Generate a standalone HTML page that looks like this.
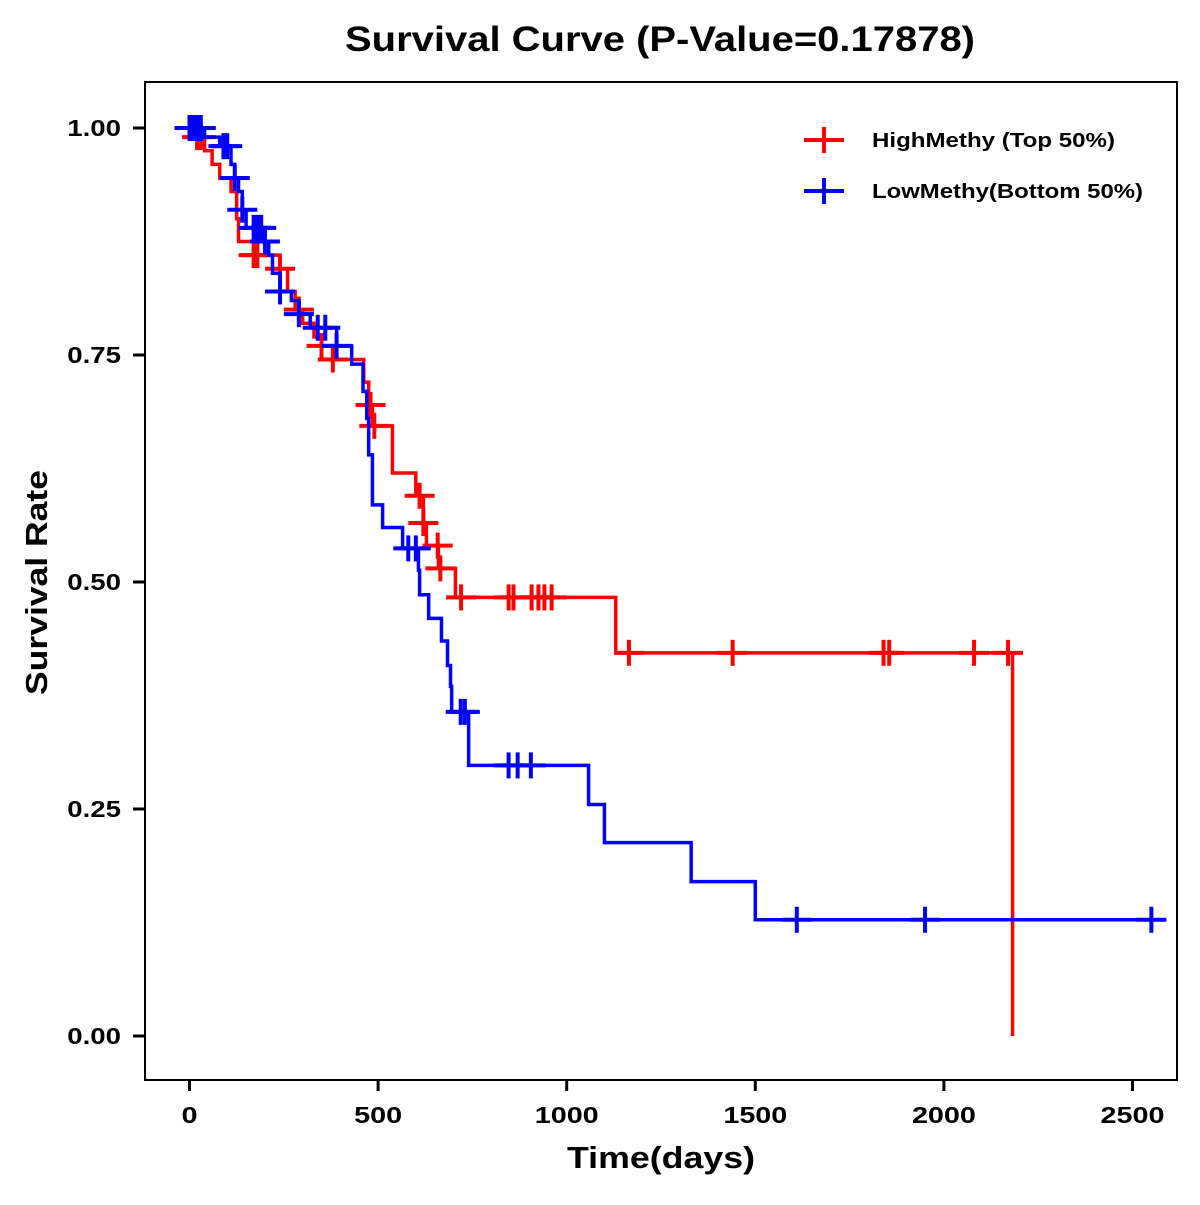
<!DOCTYPE html>
<html><head><meta charset="utf-8"><style>
body{margin:0;background:#fff}
svg text{font-family:"Liberation Sans",Arial,sans-serif;font-weight:bold;fill:#000}
</style></head><body>
<svg id="chart" width="1200" height="1200" viewBox="0 0 1200 1200" xmlns="http://www.w3.org/2000/svg">
<rect width="1200" height="1200" fill="#fff"/>
<text x="345" y="51" font-size="35" textLength="630" lengthAdjust="spacingAndGlyphs">Survival Curve (P-Value=0.17878)</text>
<rect x="145" y="82" width="1032" height="998" fill="none" stroke="#000" stroke-width="2"/>
<g id="axes"></g>
<g id="series"></g>
<text x="567" y="1168" font-size="31" textLength="188" lengthAdjust="spacingAndGlyphs">Time(days)</text>
<text transform="translate(47,695) rotate(-90)" font-size="31" textLength="225" lengthAdjust="spacingAndGlyphs">Survival Rate</text>
<g>
<g>
<line x1="804" y1="140" x2="844" y2="140" stroke="#f00" stroke-width="4"/><line x1="824" y1="127" x2="824" y2="153" stroke="#f00" stroke-width="4"/>
<text x="872" y="147" font-size="20" textLength="243" lengthAdjust="spacingAndGlyphs">HighMethy (Top 50%)</text></g>
<g>
<line x1="804" y1="191" x2="844" y2="191" stroke="#00f" stroke-width="4"/><line x1="824" y1="178" x2="824" y2="204" stroke="#00f" stroke-width="4"/>
<text x="872" y="198" font-size="20" textLength="271" lengthAdjust="spacingAndGlyphs">LowMethy(Bottom 50%)</text></g>
</g>
</svg>
<script>
const xTicks=[0,500,1000,1500,2000,2500];
const yTicks=[0,0.25,0.5,0.75,1.0];
const yTickLabels=["0.00","0.25","0.50","0.75","1.00"];
const highTimes=[20,40,60,80,110,125,130,170,240,260,280,300,330,350,380,462,475,485,538,600,620,628,660,705,1130,2182];
const highSurv=[0.99,0.975,0.96,0.945,0.93,0.9,0.875,0.86,0.845,0.82,0.80,0.785,0.77,0.76,0.745,0.72,0.695,0.672,0.62,0.595,0.565,0.54,0.515,0.483,0.422,0.0];
const highCensor=[20,30,170,180,240,290,350,380,480,490,610,620,658,665,720,846,859,907,925,941,960,1165,1440,1840,1855,2080,2170];
const lowTimes=[40,80,110,120,130,140,150,200,210,220,240,270,290,320,390,430,460,470,475,485,512,565,607,610,634,668,684,692,695,740,1058,1100,1330,1500];
const lowSurv=[0.99,0.98,0.96,0.945,0.93,0.91,0.89,0.875,0.86,0.84,0.82,0.81,0.795,0.78,0.76,0.74,0.71,0.68,0.64,0.585,0.56,0.537,0.513,0.486,0.46,0.435,0.408,0.385,0.357,0.298,0.255,0.213,0.17,0.128];
const lowCensor=[0,10,20,30,90,100,120,140,170,180,190,200,240,290,340,360,390,580,600,719,730,846,870,905,1610,1950,2550];
const lowEnd=2560;

const X=t=>189.5+t*0.3772;
const Y=s=>1036-s*908;
const NS="http://www.w3.org/2000/svg";
function mk(tag,attrs,parent){const e=document.createElementNS(NS,tag);for(const k in attrs)e.setAttribute(k,attrs[k]);parent.appendChild(e);return e;}
const axes=document.getElementById('axes'), series=document.getElementById('series');
xTicks.forEach(t=>{
 const l=mk('line',{x1:X(t),x2:X(t),y1:1081,y2:1091,stroke:'#000','stroke-width':3},axes);
 
 
 const tx=mk('text',{x:0,y:0,'font-size':23,'text-anchor':'middle',transform:`translate(${X(t)},1123) scale(1.25,1)`},axes);tx.textContent=t;
 
 
});
yTicks.forEach((s,i)=>{
 const l=mk('line',{x1:133,x2:144,y1:Y(s),y2:Y(s),stroke:'#000','stroke-width':3},axes);
 
 
 const tx=mk('text',{x:0,y:0,'font-size':23,'text-anchor':'end',transform:`translate(121,${Y(s)+8}) scale(1.2,1)`},axes);tx.textContent=yTickLabels[i];
 
 
});
function survAt(times,surv,t){let s=1;for(let i=0;i<times.length;i++){if(times[i]<=t)s=surv[i];}return s;}
function draw(times,surv,cens,end,color,name){
 let d=`M${X(0)},${Y(1)}`;
 for(let i=0;i<times.length;i++){d+=` H${X(times[i])} V${Y(surv[i])}`;}
 if(end>times[times.length-1])d+=` H${X(end)}`;
 const p=mk('path',{d:d,fill:'none',stroke:color,'stroke-width':3.5},series);
 
 
 cens.forEach(t=>{
  const y=Y(survAt(times,surv,t)),x=X(t);
  const g=mk('g',{},series);
  
  
  mk('line',{x1:x-15,x2:x+15,y1:y,y2:y,stroke:color,'stroke-width':4},g);
  mk('line',{x1:x,x2:x,y1:y-13,y2:y+13,stroke:color,'stroke-width':4},g);
 });
}
draw(highTimes,highSurv,highCensor,0,'#f00','high-methy');
draw(lowTimes,lowSurv,lowCensor,lowEnd,'#00f','low-methy');
</script>
</body></html>
